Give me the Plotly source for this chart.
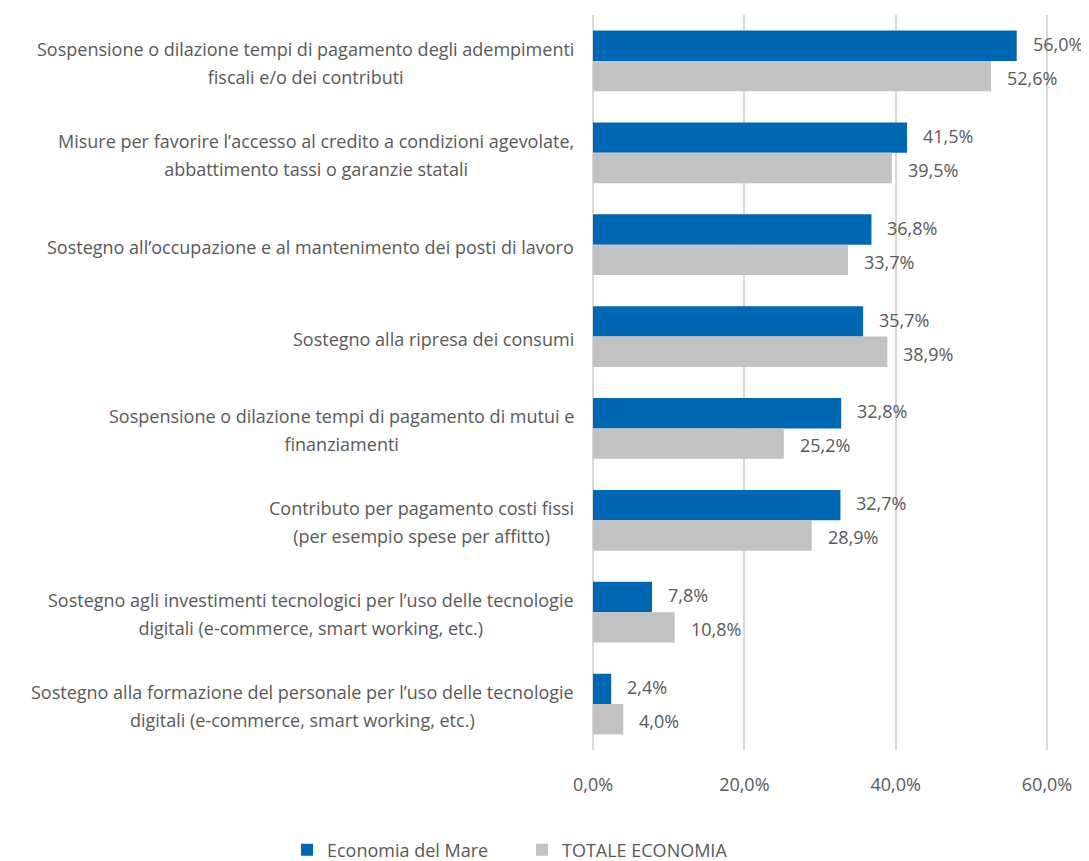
import plotly.graph_objects as go

categories = [
    "Sospensione o dilazione tempi di pagamento degli adempimenti<br>fiscali e/o dei contributi",
    "Misure per favorire l’accesso al credito a condizioni agevolate,<br>abbattimento tassi o garanzie statali",
    "Sostegno all’occupazione e al mantenimento dei posti di lavoro",
    "Sostegno alla ripresa dei consumi",
    "Sospensione o dilazione tempi di pagamento di mutui e<br>finanziamenti",
    "Contributo per pagamento costi fissi<br>(per esempio spese per affitto)",
    "Sostegno agli investimenti tecnologici per l’uso delle tecnologie<br>digitali (e-commerce, smart working, etc.)",
    "Sostegno alla formazione del personale per l’uso delle tecnologie<br>digitali (e-commerce, smart working, etc.)",
]
mare = [56.0, 41.5, 36.8, 35.7, 32.8, 32.7, 7.8, 2.4]
totale = [52.6, 39.5, 33.7, 38.9, 25.2, 28.9, 10.8, 4.0]
series_names = ["Economia del Mare", "TOTALE ECONOMIA"]
tick_vals = [0, 20, 40, 60]

BLUE = "#0067B2"
GRAY = "#C1C2C4"
TXT = "#595959"
FONT = "Open Sans"
FS = 18


def fmt(v):
    return f"{v:.1f}%".replace(".", ",")


keys = [f"c{i}" for i in range(len(categories))]

fig = go.Figure()
fig.add_trace(go.Bar(y=keys, x=mare, orientation="h", name=series_names[0],
                     marker=dict(color=BLUE, line=dict(width=0)), legend="legend"))
fig.add_trace(go.Bar(y=keys, x=totale, orientation="h", name=series_names[1],
                     marker=dict(color=GRAY, line=dict(width=0)), legend="legend2"))

annotations = []
for i, k in enumerate(keys):
    lines = categories[i].split("<br>")
    txt = "<br>".join(f"<span style='font-size:{FS}px'>{ln}</span>" for ln in lines)
    annotations.append(dict(x=0, xref="x", y=k, yref="y", text=txt, xshift=-17, yshift=-2,
                            xanchor="right", yanchor="middle", align="center", showarrow=False,
                            font=dict(family=FONT, size=21.5, color=TXT)))
    annotations.append(dict(x=mare[i], xref="x", y=k, yref="y", text=fmt(mare[i]),
                            xanchor="left", yanchor="middle", showarrow=False, xshift=14, yshift=17,
                            font=dict(family=FONT, size=FS, color=TXT)))
    annotations.append(dict(x=totale[i], xref="x", y=k, yref="y", text=fmt(totale[i]),
                            xanchor="left", yanchor="middle", showarrow=False, xshift=14, yshift=-17,
                            font=dict(family=FONT, size=FS, color=TXT)))

W, H = 1081, 853
fig.update_layout(
    width=W, height=H,
    barmode="group", bargap=0.34, bargroupgap=0,
    plot_bgcolor="white", paper_bgcolor="white",
    margin=dict(l=583, r=40, t=7, b=111, autoexpand=False),
    font=dict(family=FONT, size=FS, color=TXT),
    xaxis=dict(range=[-0.264, 60.264], tickvals=tick_vals, ticktext=[fmt(v) for v in tick_vals],
               showgrid=True, gridcolor="#D9D9D9", gridwidth=1.5, zeroline=False,
               showline=False, ticks="outside", ticklen=18, tickcolor="rgba(0,0,0,0)",
               tickfont=dict(family=FONT, size=FS, color=TXT)),
    yaxis=dict(autorange="reversed", showticklabels=False, showgrid=False,
               zeroline=False, showline=False),
    legend=dict(orientation="h", xref="container", yref="container",
                x=(297 - 18) / W, y=1 - 842 / H, xanchor="left", yanchor="middle",
                font=dict(family=FONT, size=FS, color=TXT)),
    legend2=dict(orientation="h", xref="container", yref="container",
                 x=(532 - 18) / W, y=1 - 842 / H, xanchor="left", yanchor="middle",
                 font=dict(family=FONT, size=FS, color=TXT)),
    annotations=annotations,
    showlegend=True,
)

fig.write_html("out.html")
